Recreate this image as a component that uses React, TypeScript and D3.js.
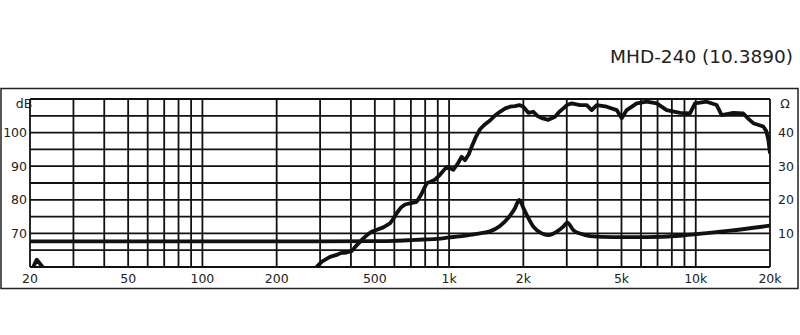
import React from "react";
import * as d3 from "d3";

const TITLE = "MHD-240 (10.3890)";

const gridFreqs = [
  20, 30, 40, 50, 60, 70, 80, 90, 100, 200, 300, 400, 500, 600, 700, 800, 900,
  1000, 2000, 3000, 4000, 5000, 6000, 7000, 8000, 9000, 10000, 20000,
];
const xTickValues = [20, 50, 100, 200, 500, 1000, 2000, 5000, 10000, 20000];
const xTickLabels = ["20", "50", "100", "200", "500", "1k", "2k", "5k", "10k", "20k"];
const dbGrid = [60, 65, 70, 75, 80, 85, 90, 95, 100, 105, 110];
const dbLabels = [70, 80, 90, 100];
const ohmLabels = [10, 20, 30, 40];

// SPL response (Hz, dB)
const splFreq = [
  20, 20.6, 21.3, 22.5, 23.5, 24.5, 270, 284, 290, 305, 329, 350, 362, 384, 404, 420, 449,
  470, 485, 541, 576, 594, 613, 640, 663, 700, 739, 770, 811, 850, 877, 920, 978, 1040, 1085,
  1125, 1160, 1200, 1235, 1280, 1335, 1400, 1465, 1530, 1608, 1690, 1766, 1850, 1926, 2000,
  2095, 2196, 2280, 2374, 2526, 2689, 2800, 2904, 3020, 3140, 3394, 3613, 3786, 3967, 4357,
  4781, 5012, 5250, 5764, 6325, 6945, 7626, 8630, 9478, 9930, 11070, 12160, 12740, 14200,
  15590, 16400, 17110, 18780, 19300, 19700, 20000,
];
const splDb = [
  56, 60, 62.2, 60, 56, 50, 50, 56, 60, 61.6, 63, 63.6, 64.1, 64.3, 64.8, 66.3, 68.5, 69.8,
  70.5, 71.8, 73, 74.3, 76, 77.8, 78.6, 79, 79.4, 81.5, 84.9, 85.5, 86, 87.5, 89.8, 88.9, 90.8,
  92.8, 91.8, 93.5, 95.8, 98.5, 101, 102.5, 103.6, 105, 106.2, 107.2, 107.7, 107.9, 108.2,
  107.7, 105.9, 106.2, 105, 104.3, 103.8, 104.7, 106.2, 107.2, 108.3, 108.7, 108.2, 108.2,
  106.7, 108.2, 107.7, 106.7, 104.3, 106.7, 108.7, 109.2, 108.7, 106.7, 105.9, 105.7, 108.7,
  109.2, 108.2, 105.2, 105.9, 105.7, 104, 102.8, 101.8, 100.5, 97.8, 93.8,
];

// Impedance (Hz, ohm)
const impFreq = [
  20, 100, 300, 500, 600, 700, 800, 900, 1000, 1100, 1200, 1335, 1465, 1608, 1766, 1850,
  1926, 2000, 2064, 2196, 2374, 2526, 2730, 2904, 3015, 3189, 3449, 3726, 4632, 6325, 8630,
  10100, 13770, 20000,
];
const impOhm = [
  7.6, 7.6, 7.6, 7.7, 7.8, 8.0, 8.2, 8.4, 8.8, 9.1, 9.5, 10.0, 10.6, 12.2, 15.3, 17.5, 20,
  17.6, 15.5, 12.0, 10.0, 9.5, 10.5, 12.0, 13.2, 11.0, 9.8, 9.2, 8.9, 8.9, 9.3, 9.8, 10.8,
  12.3,
];

const W = 800;
const H = 335;
const left = 30;
const right = 770;
const top = 99;
const bottom = 267;

export default function App() {
  const x = d3.scaleLog().domain([20, 20000]).range([left, right]);
  const y = d3.scaleLinear().domain([60, 110]).range([bottom, top]);
  const yOhm = d3.scaleLinear().domain([0, 50]).range([bottom, top]);

  const splPts: [number, number][] = splFreq.map((f, i) => [f, splDb[i]]);
  const impPts: [number, number][] = impFreq.map((f, i) => [f, impOhm[i]]);

  const splLine = d3
    .line<[number, number]>()
    .x((d) => x(d[0]))
    .y((d) => y(d[1]))
    .curve(d3.curveLinear);
  const impLine = d3
    .line<[number, number]>()
    .x((d) => x(d[0]))
    .y((d) => yOhm(d[1]))
    .curve(d3.curveMonotoneX);

  const font = "'DejaVu Sans', Verdana, sans-serif";
  const txt = "#222";

  return (
    <svg
      width={W}
      height={H}
      style={{ position: "absolute", left: 0, top: 0, background: "#fff" }}
      fontFamily={font}
    >
      <defs>
        <clipPath id="plotClip">
          <rect x={left} y={top - 3} width={right - left} height={bottom - top + 3} />
        </clipPath>
      </defs>
      <rect x={0} y={0} width={W} height={H} fill="#fff" />
      <text x={793} y={63} textAnchor="end" fontSize={18.5} fill={txt}>
        {TITLE}
      </text>
      <rect
        x={1}
        y={88.5}
        width={797}
        height={200}
        fill="none"
        stroke="#222"
        strokeWidth={1.5}
      />
      <g stroke="#111" strokeWidth={1.8}>
        {dbGrid.map((v) => (
          <line key={"h" + v} x1={left} x2={right} y1={y(v)} y2={y(v)} />
        ))}
        {gridFreqs.map((f) => (
          <line key={"v" + f} x1={x(f)} x2={x(f)} y1={top} y2={bottom} />
        ))}
      </g>
      <g clipPath="url(#plotClip)" fill="none" stroke="#111" strokeWidth={3.8} strokeLinejoin="round">
        <path d={impLine(impPts) || ""} />
        <path d={splLine(splPts) || ""} />
      </g>
      <g fontSize={12.5} fill={txt}>
        <text x={24} y={108} textAnchor="middle">dB</text>
        {dbLabels.map((v) => (
          <text key={"l" + v} x={27} y={y(v) + 4.5} textAnchor="end">
            {v}
          </text>
        ))}
        <text x={785} y={108} textAnchor="middle">Ω</text>
        {ohmLabels.map((v) => (
          <text key={"r" + v} x={778} y={yOhm(v) + 4.5} textAnchor="start">
            {v}
          </text>
        ))}
        {xTickValues.map((f, i) => (
          <text key={"x" + f} x={x(f)} y={283} textAnchor="middle">
            {xTickLabels[i]}
          </text>
        ))}
      </g>
    </svg>
  );
}
